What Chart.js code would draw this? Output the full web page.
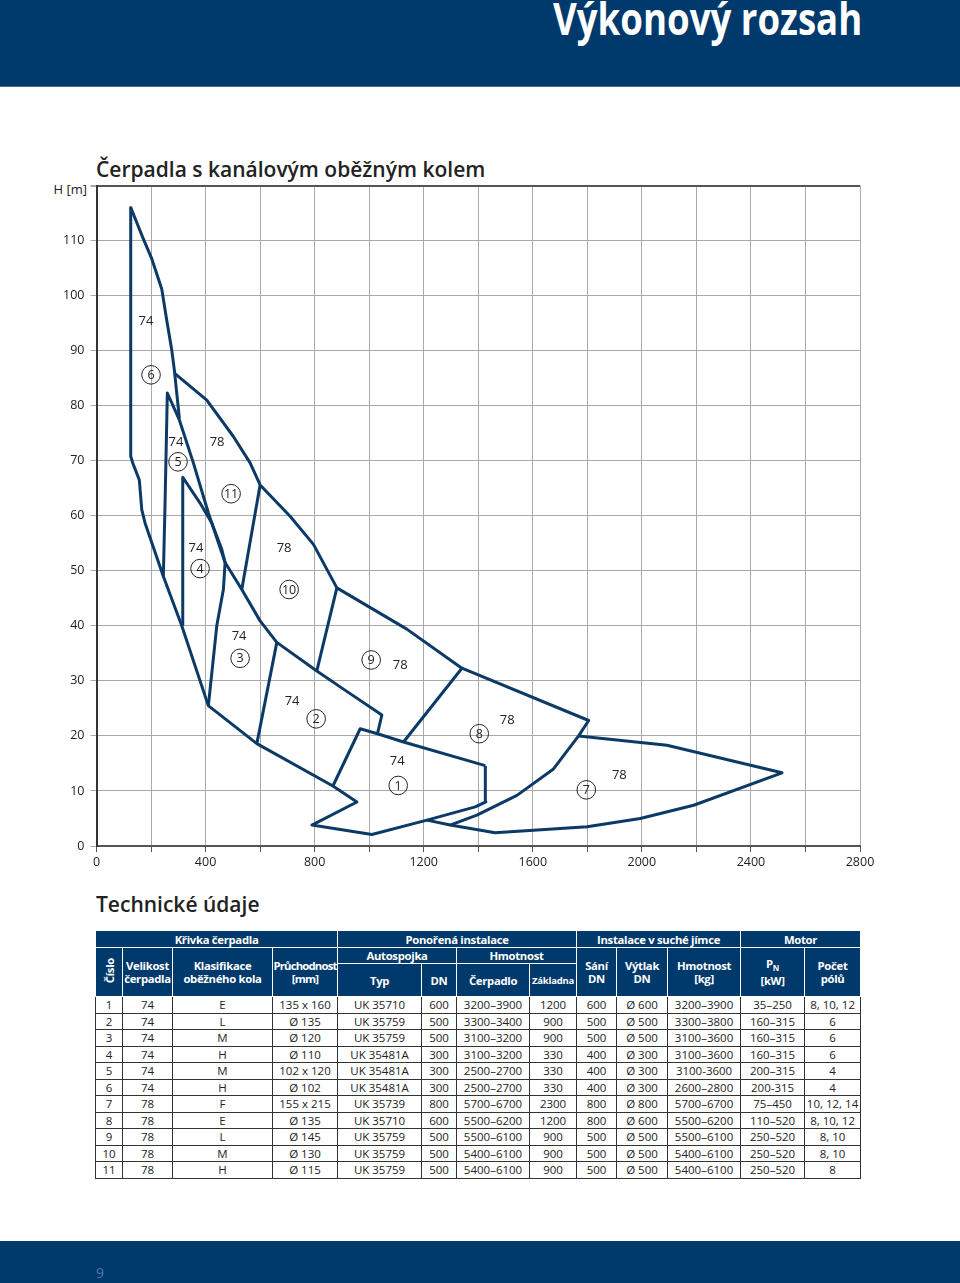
<!DOCTYPE html>
<html lang="cs">
<head>
<meta charset="utf-8">
<script src="https://cdn.jsdelivr.net/npm/chart.js@4.4.1/dist/chart.umd.min.js"></script>
<style>
  html, body { margin: 0; padding: 0; background: #fff; }
  body { width: 960px; height: 1283px; position: relative; overflow: hidden; font-family: "Open Sans", sans-serif; color: #222; }
  #top { position: absolute; left: 0; top: 0; width: 960px; height: 86px; background: #00396b; border-bottom: 1px solid #4d6d92; overflow: hidden; }
  #top span { position: absolute; top: -5px; left: 553px; font-size: 45px; line-height: 1; font-weight: 700; color: #fff; white-space: nowrap; transform-origin: 0 0; }
  #foot { position: absolute; left: 0; top: 1241px; width: 960px; height: 42px; background: #00396b; }
  #foot span { position: absolute; left: 96px; top: 25px; font-size: 14px; line-height: 1; color: #5079ad; }
  .heading { position: absolute; left: 96px; font-size: 21px; line-height: 1; font-weight: 600; color: #222; white-space: nowrap; }
  #hm { position: absolute; right: 873px; top: 183px; font-size: 13px; line-height: 1; color: #222; }
  #wrap { position: absolute; left: 40px; top: 172px; width: 840px; height: 714px; }
  table { position: absolute; left: 95px; top: 930px; border-collapse: collapse; table-layout: fixed; width: 765px; font-size: 11.5px; }
  th { background: #00396b; color: #fff; font-weight: 700; font-size: 11.3px; letter-spacing: -0.3px; border: 1px solid #fff; padding: 0; line-height: 13px; text-align: center; white-space: nowrap; overflow: hidden; }
  td { border: 1px solid #333; padding: 0; height: 15.5px; line-height: 15px; text-align: center; white-space: nowrap; }
  .rot { writing-mode: vertical-rl; transform: rotate(180deg); display: inline-block; }
  .small { font-size: 9.5px; letter-spacing: -0.2px; }
  .tight { letter-spacing: -0.8px; }
</style>
</head>
<body>
<div id="top"><span id="bigtitle">Výkonový rozsah</span></div>
<div class="heading" style="top:159px">Čerpadla s kanálovým oběžným kolem</div>
<div id="hm">H [m]</div>
<div id="wrap"><canvas id="chart"></canvas></div>
<div class="heading" style="top:894px">Technické údaje</div>

<table id="tbl">
  <colgroup>
    <col style="width:27px"><col style="width:50px"><col style="width:100px"><col style="width:65px">
    <col style="width:84px"><col style="width:35px"><col style="width:73px"><col style="width:47px">
    <col style="width:40px"><col style="width:51px"><col style="width:73px"><col style="width:64px"><col style="width:56px">
  </colgroup>
  <thead>
    <tr style="height:17px">
      <th colspan="4">Křivka čerpadla</th>
      <th colspan="4">Ponořená instalace</th>
      <th colspan="3">Instalace v suché jímce</th>
      <th colspan="2">Motor</th>
    </tr>
    <tr style="height:16px">
      <th rowspan="2"><span class="rot">Číslo</span></th>
      <th rowspan="2">Velikost<br>čerpadla</th>
      <th rowspan="2">Klasifikace<br>oběžného kola</th>
      <th rowspan="2" class="tight">Průchodnost<br>[mm]</th>
      <th colspan="2">Autospojka</th>
      <th colspan="2">Hmotnost</th>
      <th rowspan="2">Sání<br>DN</th>
      <th rowspan="2">Výtlak<br>DN</th>
      <th rowspan="2">Hmotnost<br>[kg]</th>
      <th rowspan="2">P<sub style="font-size:8px">N</sub><br>[kW]</th>
      <th rowspan="2">Počet<br>pólů</th>
    </tr>
    <tr style="height:33px">
      <th>Typ</th><th>DN</th><th>Čerpadlo</th><th class="small">Základna</th>
    </tr>
  </thead>
  <tbody id="tbody"></tbody>
</table>

<div id="foot"><span>9</span></div>

<script>
// pump curve outlines, [Q, H] pairs
const envelopeLeft = [[125.5,116.0],[125.5,70.8],[132.8,69.6],[157,66.5],[166,61.1],[178,58.7],[245,49.0],[312.7,40.0],[410,25.5],[588,18.6],[867,10.9],[955,8.0],[790,3.8],[1010,2.1],[1212,4.7],[1389,7.1],[1428,8.0],[1426,14.6]];
const curve6Right = [[125.5,116.0],[171.7,110.3],[202.6,106.7],[239.3,101.2],[257.6,95.5],[276,90.1],[285.5,86.5],[303.9,77.7]];
const envelopeTop = [[285.5,85.9],[404.4,81.0],[502,74.4],[563.3,69.6],[600,65.6],[710,59.9],[795.6,54.8],[881.5,46.9],[1138,39.4],[1340,32.3],[1805,22.8],[1768,20.0],[1676,14.0],[1542,9.2],[1395,5.6],[1297,3.8]];
const curve7 = [[1212,4.7],[1297,3.8],[1462,2.4],[1799,3.5],[1994,5.0],[2190,7.4],[2514,13.3],[2092,18.3],[1768,20.0]];
const curve5 = [[245.1,49.0],[251.4,62.3],[259.8,82.3],[303.9,77.4],[355.2,69.6],[410.3,60.5],[471.6,51.5]];
const curve4 = [[316.3,40.0],[316.3,67.0],[379.8,62.3],[422.8,58.7],[459.4,53.9],[471.6,51.5],[465.3,46.6],[441.1,40.0],[410.3,25.5]];
const curve3Top = [[471.6,51.5],[532.8,46.6],[600,40.9],[661.3,37.0],[808,31.8],[905.7,28.5],[1046.6,23.8],[1030.5,20.4]];
const curve3Right = [[661.3,37.0],[588,18.6]];
const curve11Right = [[600,65.6],[532.8,46.6]];
const curve10Right = [[881.5,46.9],[808,31.8]];
const curve9Right = [[1340,32.3],[1125.9,18.9]];
const curve1Top = [[867,10.9],[967,21.3],[1030.5,20.4],[1125.9,18.9],[1425.7,14.6]];

const outlines = [envelopeLeft, curve6Right, envelopeTop, curve7, curve5, curve4, curve3Top, curve3Right, curve11Right, curve10Right, curve9Right, curve1Top];

// pump size labels and curve numbers (circled), in Q/H units
const sizeLabels = [[181.7,95.3,'74'],[291.7,73.4,'74'],[442.2,73.4,'78'],[365.1,54.0,'74'],[688,54.0,'78'],[523,38.1,'74'],[1113.8,32.9,'78'],[717.4,26.3,'74'],[1506.4,22.9,'78'],[1102.8,15.3,'74'],[1917.4,12.8,'78']];
const curveNumbers = [[1106.4,11.0,'1'],[805.5,23.1,'2'],[526.6,34.1,'3'],[379.8,50.4,'4'],[299,69.8,'5'],[200,85.6,'6'],[1796.3,10.2,'7'],[1403.7,20.4,'8'],[1007.3,33.8,'9'],[706.4,46.6,'10'],[493.6,64.0,'11']];

const xTicks = [0, 2800, 200];
const yTicks = [0, 120, 10];

// technical data table
const rowNo = [1,2,3,4,5,6,7,8,9,10,11];
const pumpSize = ['74','74','74','74','74','74','78','78','78','78','78'];
const impeller = ['E','L','M','H','M','H','F','E','L','M','H'];
const passage = ['135 x 160','Ø 135','Ø 120','Ø 110','102 x 120','Ø 102','155 x 215','Ø 135','Ø 145','Ø 130','Ø 115'];
const couplingType = ['UK 35710','UK 35759','UK 35759','UK 35481A','UK 35481A','UK 35481A','UK 35739','UK 35710','UK 35759','UK 35759','UK 35759'];
const couplingDN = ['600','500','500','300','300','300','800','600','500','500','500'];
const pumpWeight = ['3200–3900','3300–3400','3100–3200','3100–3200','2500–2700','2500–2700','5700–6700','5500–6200','5500–6100','5400–6100','5400–6100'];
const baseWeight = ['1200','900','900','330','330','330','2300','1200','900','900','900'];
const suctionDN = ['600','500','500','400','400','400','800','800','500','500','500'];
const dischargeDN = ['Ø 600','Ø 500','Ø 500','Ø 300','Ø 300','Ø 300','Ø 800','Ø 600','Ø 500','Ø 500','Ø 500'];
const dryWeight = ['3200–3900','3300–3800','3100–3600','3100–3600','3100-3600','2600–2800','5700–6700','5500–6200','5500–6100','5400–6100','5400–6100'];
const motorPower = ['35–250','160–315','160–315','160–315','200–315','200-315','75–450','110–520','250–520','250–520','250–520'];
const poles = ['8, 10, 12','6','6','6','4','4','10, 12, 14','8, 10, 12','8, 10','8, 10','8'];

const tbody = document.getElementById('tbody');
rowNo.forEach((n, i) => {
    const cells = [n, pumpSize[i], impeller[i], passage[i], couplingType[i], couplingDN[i], pumpWeight[i], baseWeight[i], suctionDN[i], dischargeDN[i], dryWeight[i], motorPower[i], poles[i]];
    const tr = document.createElement('tr');
    tr.innerHTML = cells.map(c => `<td>${c}</td>`).join('');
    tbody.appendChild(tr);
});

// squeeze the header title to its width in the print
const big = document.getElementById('bigtitle');
big.style.transform = `scaleX(${309 / big.offsetWidth})`;

const lineColor = '#0b3a66';
const tickFont = { family: 'Open Sans', size: 12.5 };

const regionLabels = {
    id: 'regionLabels',
    afterDatasetsDraw(chart) {
        const { ctx, scales: { x, y } } = chart;
        ctx.save();
        ctx.fillStyle = '#222';
        ctx.strokeStyle = '#222';
        ctx.lineWidth = 1;
        ctx.textAlign = 'center';
        ctx.textBaseline = 'middle';
        ctx.font = '13px "Open Sans"';
        sizeLabels.forEach(([q, h, t]) => ctx.fillText(t, x.getPixelForValue(q), y.getPixelForValue(h)));
        ctx.font = '12.5px "Open Sans"';
        curveNumbers.forEach(([q, h, t]) => {
            const px = x.getPixelForValue(q), py = y.getPixelForValue(h);
            ctx.beginPath();
            ctx.arc(px, py, 9.3, 0, Math.PI * 2);
            ctx.stroke();
            ctx.fillText(t, px, py + 0.5);
        });
        ctx.restore();
    }
};

new Chart(document.getElementById('chart'), {
    type: 'scatter',
    data: {
        datasets: outlines.map(pts => ({
            data: pts.map(([q, h]) => ({ x: q, y: h })),
            showLine: true,
            borderColor: lineColor,
            borderWidth: 3,
            borderJoinStyle: 'round',
            pointRadius: 0,
            tension: 0,
            fill: false
        }))
    },
    options: {
        responsive: true,
        maintainAspectRatio: false,
        animation: false,
        layout: { padding: { top: 7, right: 20, left: 0, bottom: 0 } },
        plugins: { legend: { display: false }, tooltip: { enabled: false } },
        scales: {
            x: {
                type: 'linear',
                min: xTicks[0], max: xTicks[1],
                ticks: {
                    stepSize: xTicks[2], autoSkip: false, maxRotation: 0,
                    color: '#222', font: tickFont, padding: 3,
                    callback: v => (v % 400 === 0 ? v : '')
                },
                grid: { color: '#a9a9a9', lineWidth: 1, tickLength: 6, tickColor: '#555' },
                border: { display: true, color: '#555', width: 2 },
                afterFit: s => { s.height = 40; }
            },
            y: {
                type: 'linear',
                min: yTicks[0], max: yTicks[1],
                ticks: {
                    stepSize: yTicks[2], autoSkip: false,
                    color: '#222', font: tickFont, padding: 6,
                    callback: v => (v === 120 ? '' : v)
                },
                grid: {
                    color: c => (c.tick && c.tick.value === 120 ? '#555' : '#a9a9a9'),
                    lineWidth: c => (c.tick && c.tick.value === 120 ? 2 : 1),
                    tickLength: 6, tickColor: '#a9a9a9'
                },
                border: { display: true, color: '#333', width: 2 },
                afterFit: s => { s.width = 56.5; }
            }
        }
    },
    plugins: [regionLabels]
});
</script>
</body>
</html>
